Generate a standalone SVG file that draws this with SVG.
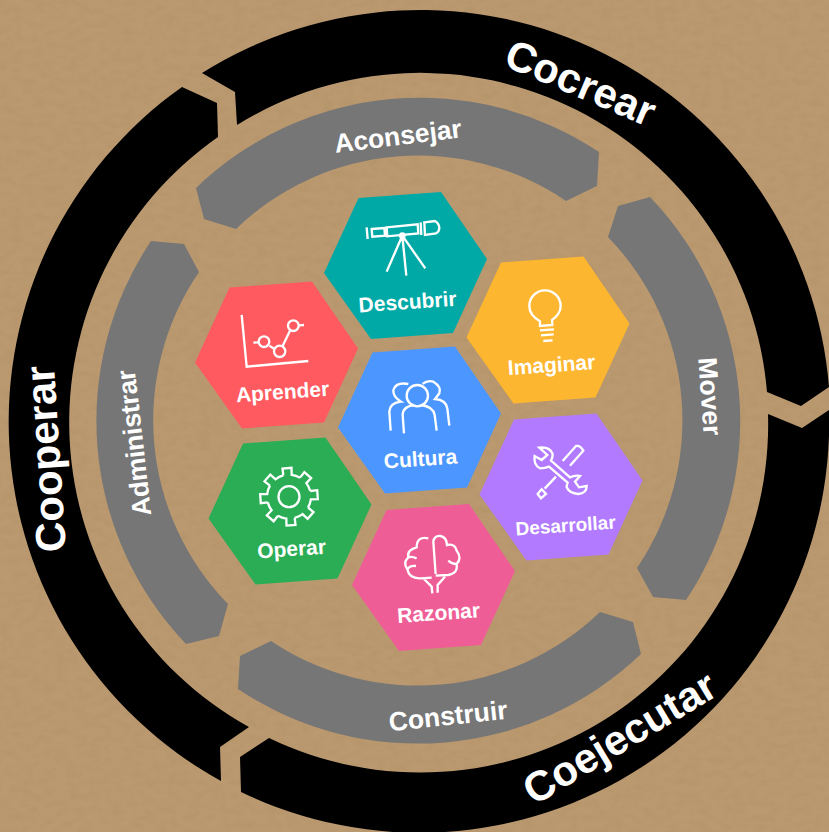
<svg xmlns="http://www.w3.org/2000/svg" width="829" height="832" viewBox="0 0 829 832">
<style>
text{font-family:"Liberation Sans",Arial,sans-serif;font-weight:700;fill:#fff;text-anchor:middle}
.hl{font-size:21px}
.gl{font-size:26.5px}
.bl{font-size:42px}
.black{fill:#000}
.gray{fill:#767676}
.ic{fill:none;stroke:#fff;stroke-width:7;stroke-linecap:butt;stroke-linejoin:miter}
</style>
<defs>
<filter id="tex" x="0" y="0" width="100%" height="100%">
<feTurbulence type="fractalNoise" baseFrequency="0.09 0.14" numOctaves="4" seed="11"/>
<feColorMatrix type="matrix" values="0 0 0 0 0.35  0 0 0 0 0.24  0 0 0 0 0.1  1.1 0 0 0 -0.42"/>
</filter>
<polygon id="hex" points="-47,-67.5 35.5,-73.5 81.5,-6.5 47.5,67.5 -34.5,73.5 -81.5,7.5"/>
<path id="tooth" d="M-4.2,-21.6 L-4.5,-28.6 L4.5,-28.6 L4.2,-21.6 A22,22 0 0 1 12.3,-18.2" fill="none" stroke="#fff" stroke-width="2.3" stroke-linejoin="miter"/>
</defs>
<rect width="829" height="832" fill="#BB9970"/>
<rect width="829" height="832" filter="url(#tex)" opacity="0.4"/>

<g id="cocrear">
<path class="black" d="M202,73 L235,92 L237,125 A348,348 0 0 1 767,392 L801,406 L829,387 A410,410 0 0 0 202,73 Z"/>
<text class="bl" transform="translate(575,96) rotate(23)">Cocrear</text>
</g>
<g id="coejecutar">
<path class="black" d="M768,414 L802,428 L829,410 A410,410 0 0 1 241,792 L240,757 L269,738 A348,348 0 0 0 768,414 Z"/>
<text class="bl" transform="translate(627,750) rotate(-31)">Coejecutar</text>
</g>
<g id="cooperar">
<path class="black" d="M182,87 L217,103 L218,137 A348,348 0 0 0 249,727 L220,747 L221,781 A410,410 0 0 1 182,87 Z"/>
<text class="bl" transform="translate(60,458) rotate(-93.7)">Cooperar</text>
</g>

<g id="aconsejar">
<path class="gray" d="M196,188 L204,219 L236,229 A263,263 0 0 1 566,201 L597,186 L599,152 A323,323 0 0 0 196,188 Z"/>
<text class="gl" transform="translate(399,145) rotate(-7)">Aconsejar</text>
</g>
<g id="mover">
<path class="gray" d="M608,237 L618,206 L650,197 A323,323 0 0 1 686,600 L653,597 L637,568 A263,263 0 0 0 608,237 Z"/>
<text class="gl" transform="translate(701,397) rotate(86)">Mover</text>
</g>
<g id="construir">
<path class="gray" d="M600,612 L633,622 L641,654 A323,323 0 0 1 238,689 L240,656 L271,641 A263,263 0 0 0 600,612 Z"/>
<text class="gl" transform="translate(449,725) rotate(-6)">Construir</text>
</g>
<g id="administrar">
<path class="gray" d="M199,272 L184,244 L151,241 A323,323 0 0 0 186,644 L219,636 L228,604 A263,263 0 0 1 199,272 Z"/>
<text class="gl" transform="translate(143,442) rotate(-96.5)" textLength="147" lengthAdjust="spacing">Administrar</text>
</g>

<g id="descubrir">
<use href="#hex" x="405.5" y="265.5" fill="#00A9A5"/>
<g transform="translate(190,180) scale(.3333)">
<path class="ic" d="M590,142 L683,133 L685,160 L592,169 Z M545,147 L583,144 L585,167 L547,170 Z M530,142 L533,177 M692,127 L694,165 M703,127 L735,123 Q747,130 748,143 Q748,155 738,160 L705,165 Z M637,167 L590,275 M637,167 L649,287 M637,167 L706,265"/>
<circle cx="637" cy="167" r="10" fill="#fff"/>
</g>
<text class="hl" transform="translate(408,309) rotate(-4)">Descubrir</text>
</g>
<g id="aprender">
<use href="#hex" x="276.5" y="355" fill="#FF5A5F"/>
<g transform="translate(190,180) scale(.3333)">
<path class="ic" d="M155,405 L170,560 L355,543 M190,488 L207,487 M238,497 L254,507 M278,498 L300,452 M326,436 L342,435"/>
<circle class="ic" cx="222" cy="485" r="16"/>
<circle class="ic" cx="269" cy="514" r="17"/>
<circle class="ic" cx="310" cy="437" r="16"/>
</g>
<text class="hl" transform="translate(283,399) rotate(-4)">Aprender</text>
</g>
<g id="imaginar">
<use href="#hex" x="548" y="330" fill="#FDB62F"/>
<g transform="translate(340,250) scale(.3333)">
<path class="ic" d="M600,228 L600,214 Q568,195 568,168 A47,47 0 1 1 662,168 Q662,192 636,210 L637,225 Z M600,241 L642,238 M603,256 L641,253 M610,273 L638,271"/>
</g>
<text class="hl" transform="translate(552,372) rotate(-4)">Imaginar</text>
</g>
<g id="cultura">
<use href="#hex" x="419.5" y="420" fill="#4C97FF"/>
<g transform="translate(340,250) scale(.3333)">
<circle class="ic" cx="232" cy="437" r="32"/>
<path class="ic" d="M192,550 L188,495 Q188,470 222,465 M243,465 Q280,470 284,495 L290,542 M152,542 L148,485 Q150,458 183,455 Q158,440 160,420 Q168,395 205,402 M248,402 Q262,390 280,395 Q305,410 298,430 L285,447 Q318,450 322,475 L328,527"/>
</g>
<text class="hl" transform="translate(421,466) rotate(-4)">Cultura</text>
</g>
<g id="desarrollar">
<use href="#hex" x="561" y="487" fill="#B27BFF"/>
<g transform="translate(470,400) scale(.3333)">
<path class="ic" d="M208,143 Q240,140 248,162 Q248,175 243,182 L300,232 Q315,225 330,228 L315,245 L327,262 L350,258 Q350,280 325,282 Q298,280 290,262 Q290,255 293,248 L237,200 Q225,205 210,205 Q190,195 194,168 L215,180 L232,165 Z M278,183 L318,138 Q330,135 340,152 L300,197 M258,230 L224,266 M203,282 L215,268 L228,282 L213,295 Z"/>
</g>
<text class="hl" style="font-size:19px" transform="translate(566,532) rotate(-4)">Desarrollar</text>
</g>
<g id="operar">
<use href="#hex" x="290" y="511" fill="#2BAD55"/>
<g transform="translate(289,496.7)">
<use href="#tooth" transform="rotate(-4)"/>
<use href="#tooth" transform="rotate(41)"/>
<use href="#tooth" transform="rotate(86)"/>
<use href="#tooth" transform="rotate(131)"/>
<use href="#tooth" transform="rotate(176)"/>
<use href="#tooth" transform="rotate(221)"/>
<use href="#tooth" transform="rotate(266)"/>
<use href="#tooth" transform="rotate(311)"/>
<circle cx="0" cy="0" r="10.5" fill="none" stroke="#fff" stroke-width="2.3"/>
</g>
<text class="hl" transform="translate(292,556) rotate(-4)">Operar</text>
</g>
<g id="razonar">
<use href="#hex" x="433.5" y="577.5" fill="#EF5D97"/>
<g transform="translate(200,430) scale(.3333)">
<path class="ic" d="M707,432 L700,335 Q703,316 722,318 Q740,322 741,345 Q765,340 770,362 Q787,385 770,402 Q775,430 745,435 L707,437 M685,325 Q650,318 650,352 Q620,360 625,382 Q608,398 622,418 Q628,447 662,445 L695,443 M625,382 Q635,378 650,385 M622,418 Q630,405 648,408 M672,447 L695,470 L697,490 M713,488 L713,465 L735,440 M770,402 Q755,402 745,392"/>
</g>
<text class="hl" transform="translate(439,620) rotate(-4)">Razonar</text>
</g>
</svg>
